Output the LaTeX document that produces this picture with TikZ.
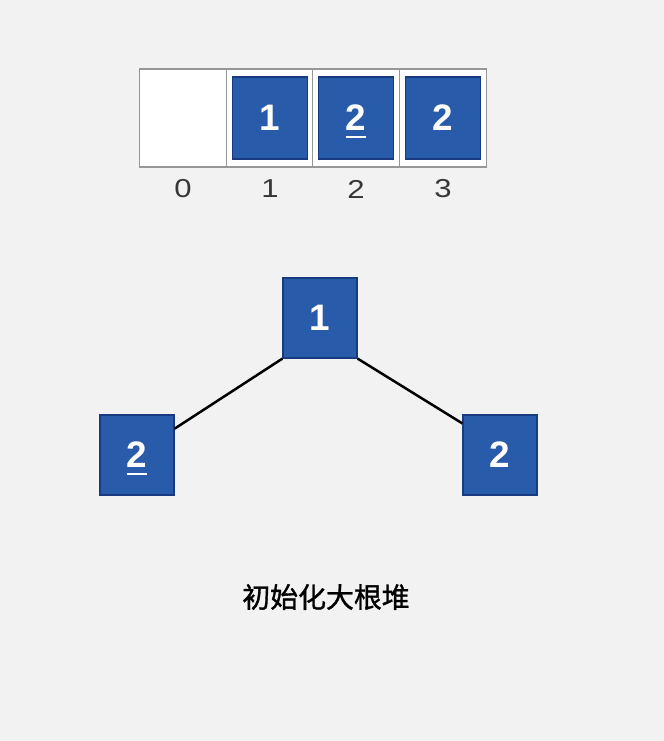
\documentclass[tikz,border=0pt]{standalone}
\usepackage{fontspec}
\setmainfont{Liberation Sans}
\newfontfamily\cjkfont[FakeBold=1.2]{Noto Sans CJK SC}
\newfontfamily\idxfont[FakeStretch=1.2]{Liberation Sans}

\definecolor{bggray}{RGB}{242,242,242}
\definecolor{cellgray}{RGB}{150,150,150}
\definecolor{keyblue}{RGB}{40,92,170}
\definecolor{keyedge}{RGB}{24,58,128}
\definecolor{idxgray}{RGB}{55,55,55}

% underlined key (marks the second 2)
\newcommand{\ulkey}[1]{\setbox0\hbox{#1}\rlap{\smash{\rule[-0.2em]{\wd0}{0.07em}}}\box0}

\begin{document}
\begin{tikzpicture}[x=1bp,y=-1bp,
    cell/.style={draw=cellgray,fill=white,line width=1.2bp,minimum width=87bp,minimum height=98bp,inner sep=0pt},
    key/.style={draw=keyedge,fill=keyblue,line width=1.2bp,minimum width=75bp,minimum height=82bp,inner sep=0pt,text=white,font=\fontsize{37}{37}\selectfont\bfseries},
    idx/.style={font=\idxfont\fontsize{26}{26}\selectfont,text=idxgray},
    edge/.style={line width=2.5bp}]

\fill[bggray] (0,0) rectangle (664,741);

% array
\node[cell] (c0) at (183,118) {};
\node[cell] (c1) at (270,118) {};
\node[cell] (c2) at (356,118) {};
\node[cell] (c3) at (443,118) {};

\node[key] (a1) at (c1) {1};
\node[key] (a2) at (c2) {\ulkey{2}};
\node[key] (a3) at (c3) {2};

\node[idx] (i0) at (183,189) {0};
\node[idx] (i1) at (270,189) {1};
\node[idx] (i2) at (356,189) {2};
\node[idx] (i3) at (443,189) {3};

% heap
\node[key,minimum width=74bp,minimum height=80bp] (root) at (320,318) {1};
\node[key,minimum width=74bp,minimum height=80bp] (left) at (137,455) {\ulkey{2}};
\node[key,minimum width=74bp,minimum height=80bp] (right) at (500,455) {2};

\draw[edge] (root.south west) -- (left.35);
\draw[edge] (root.south east) -- (right.140);

\node[font=\cjkfont\fontsize{28}{28}\selectfont] (caption) at (326,597) {初始化大根堆};
\end{tikzpicture}
\end{document}
